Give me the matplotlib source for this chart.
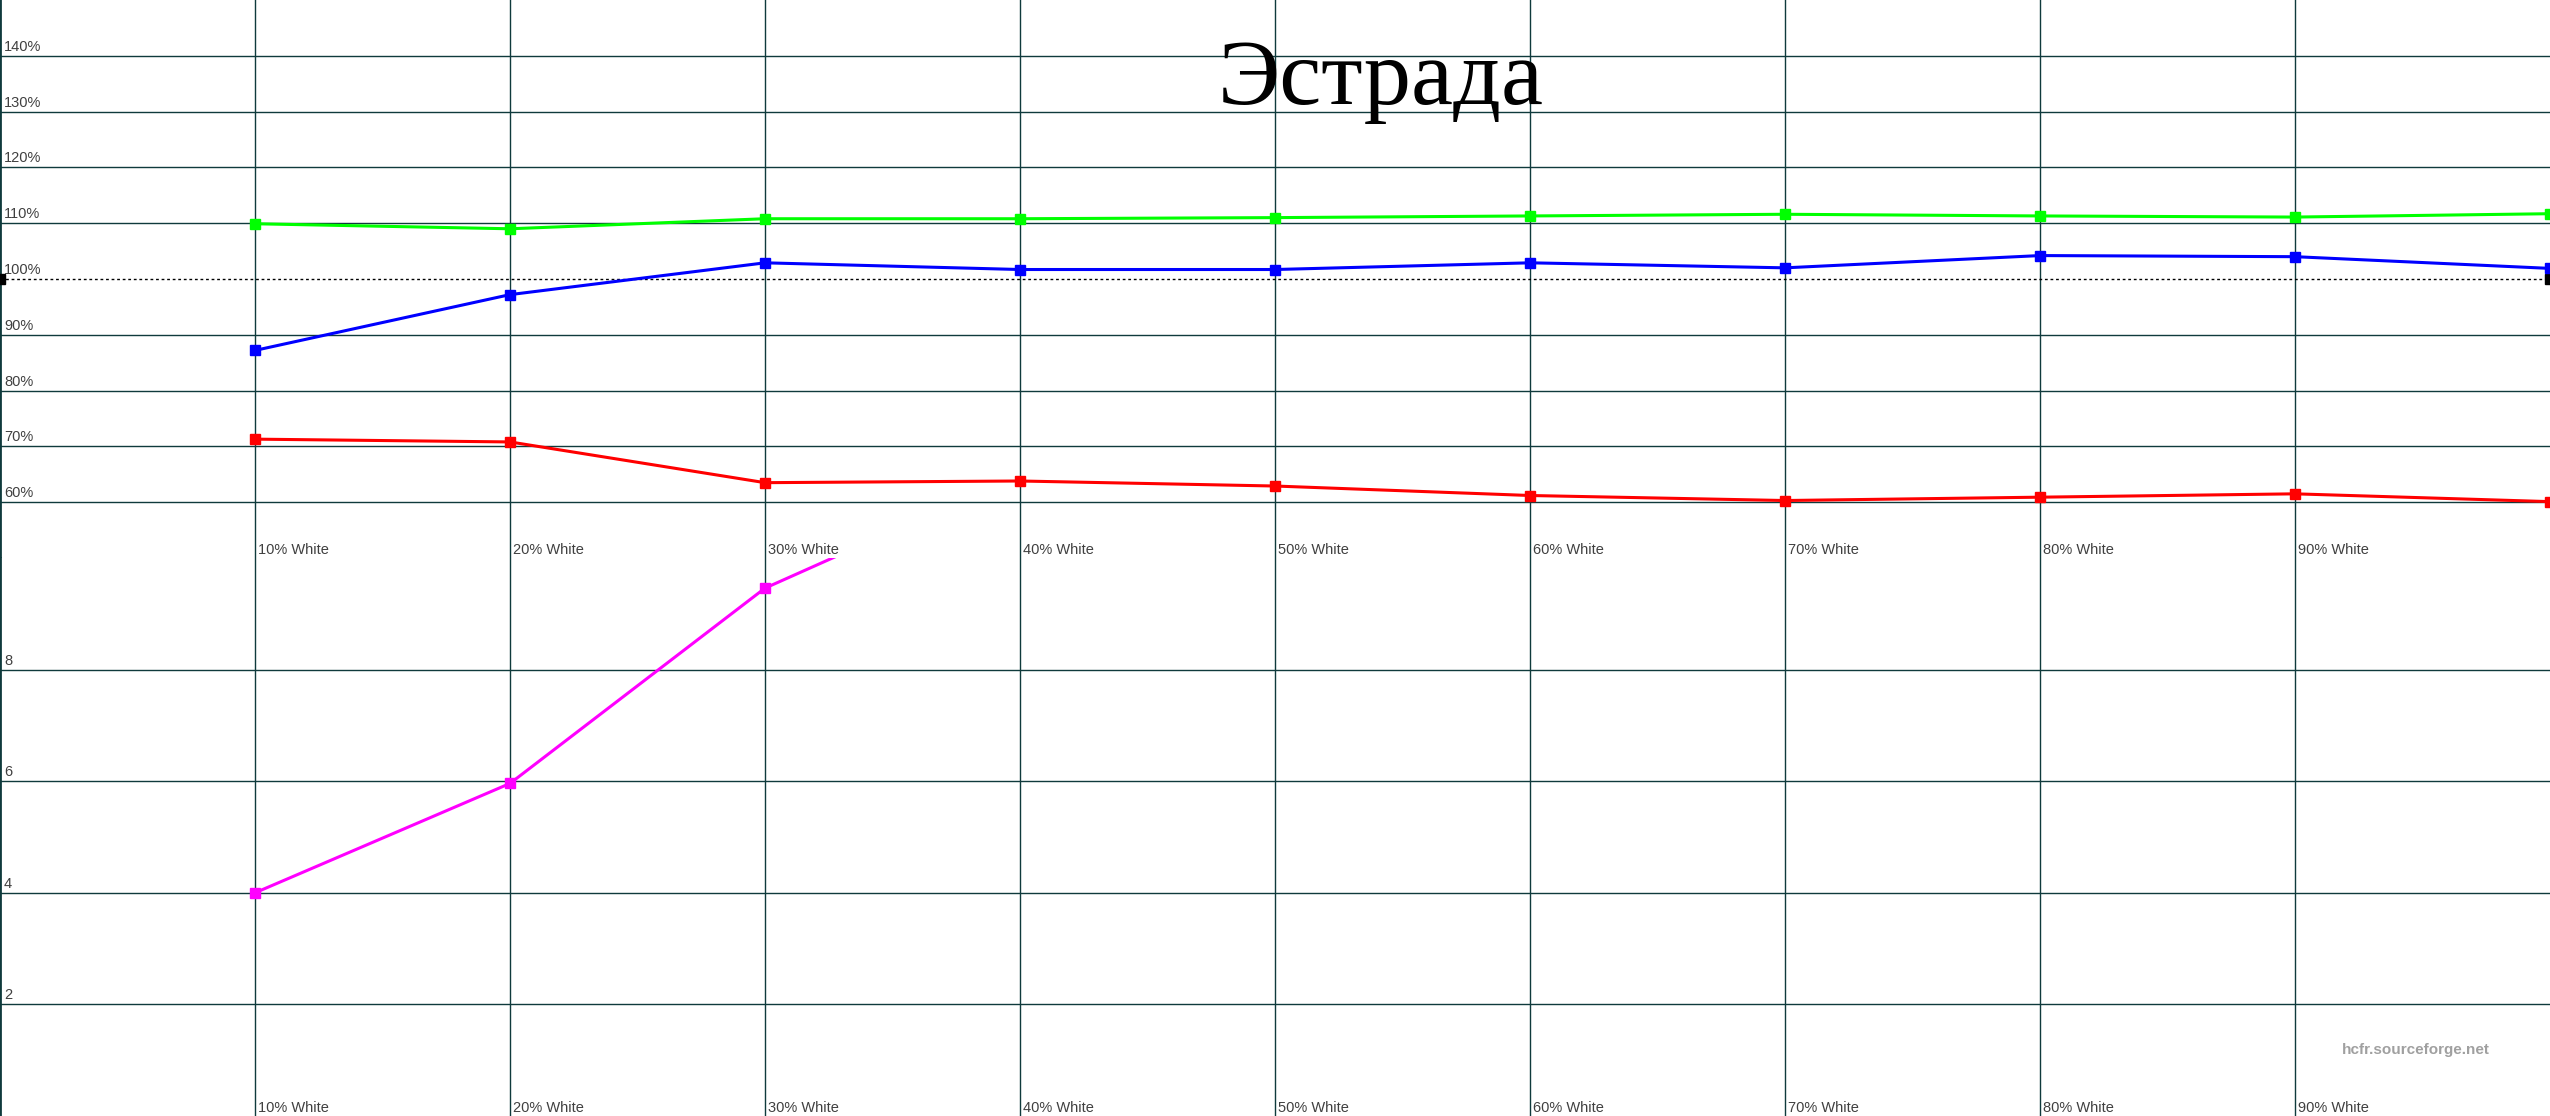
import matplotlib
matplotlib.use("Agg")
import matplotlib.pyplot as plt
import matplotlib.transforms as mtransforms

# categories (x = 1..10, last one sits on the right edge)
cats = ["10% White", "20% White", "30% White", "40% White", "50% White",
        "60% White", "70% White", "80% White", "90% White", "100% White"]
xpos = list(range(1, 11))

# top panel: relative levels (%)
green = [109.9, 109.0, 110.8, 110.8, 111.0, 111.3, 111.6, 111.3, 111.1, 111.7]
blue = [87.2, 97.2, 102.9, 101.7, 101.7, 102.9, 102.0, 104.2, 104.0, 101.9]
red = [71.3, 70.8, 63.5, 63.8, 62.9, 61.2, 60.3, 60.9, 61.5, 60.1]

# bottom panel: deltaE (goes off the top after 30%)
magenta_x = [1, 2, 3, 4]
magenta = [4.0, 5.96, 9.46, 11.5]

top_ticks = [60, 70, 80, 90, 100, 110, 120, 130, 140]
top_labels = ["60%", "70%", "80%", "90%", "100%", "110%", "120%", "130%", "140%"]
bot_ticks = [2, 4, 6, 8]
bot_labels = ["2", "4", "6", "8"]

grid_col = "#0f3a3c"
lab_col = "#404040"
lab_font = ["Liberation Sans", "DejaVu Sans"]

fig = plt.figure(figsize=(25.5, 11.16), dpi=100)
ax_top = fig.add_axes([0, 0.5, 1, 0.5])
ax_bot = fig.add_axes([0, 0.0, 1, 0.5])


def setup(ax, ylim, ticks, labels):
    ax.set_xlim(0, 10)
    ax.set_ylim(*ylim)
    for s in ["top", "right", "bottom"]:
        ax.spines[s].set_visible(False)
    ax.spines["left"].set_color(grid_col)
    ax.spines["left"].set_linewidth(2)
    ax.set_xticks(xpos[:-1])
    ax.set_yticks([t for t in ticks if t != 100])
    ax.tick_params(length=0, labelbottom=False, labelleft=False)
    ax.grid(True, color=grid_col, linewidth=1.0, zorder=0)
    ax.set_axisbelow(True)
    # y labels sit just above their gridline
    tr = mtransforms.blended_transform_factory(ax.transAxes, ax.transData)
    off = mtransforms.offset_copy(tr, fig=fig, x=4, y=2, units="dots")
    for t, l in zip(ticks, labels):
        ax.text(0, t, l, transform=off, ha="left", va="bottom",
                fontsize=10.5, color=lab_col, family=lab_font)
    # x labels along the bottom of each panel
    trx = mtransforms.blended_transform_factory(ax.transData, ax.transAxes)
    offx = mtransforms.offset_copy(trx, fig=fig, x=3, y=1, units="dots")
    for x, c in zip(xpos[:-1], cats[:-1]):
        ax.text(x, 0, c, transform=offx, ha="left", va="bottom",
                fontsize=10.5, color=lab_col, family=lab_font)


setup(ax_top, (50, 150), top_ticks, top_labels)
setup(ax_bot, (0, 10), bot_ticks, bot_labels)

# 100% reference line
ax_top.axhline(100, color="black", linewidth=1, linestyle=(0, (2, 2)), zorder=2)
ax_top.plot([0, 10], [100, 100], "s", color="black", markersize=7,
            clip_on=False, zorder=3)

for vals, col in [(green, "#00ff00"), (blue, "#0000ff"), (red, "#ff0000")]:
    ax_top.plot(xpos, vals, color=col, linewidth=2.2, marker="s",
                markersize=7, zorder=4, clip_on=False)

ax_bot.plot(magenta_x, magenta, color="#ff00ff", linewidth=2.2, marker="s",
            markersize=7, zorder=4)

fig.text(0.5416, 0.9068, "Эстрада", ha="center", va="baseline",
         fontsize=68, family=["Liberation Serif", "DejaVu Serif"], color="black")
fig.text(0.9765, 0.059, "hcfr.sourceforge.net", ha="right", va="center",
         fontsize=11, fontweight="bold", color="#a0a0a0",
         family=["Liberation Sans", "DejaVu Sans"])

fig.savefig("out.png", dpi=100)
